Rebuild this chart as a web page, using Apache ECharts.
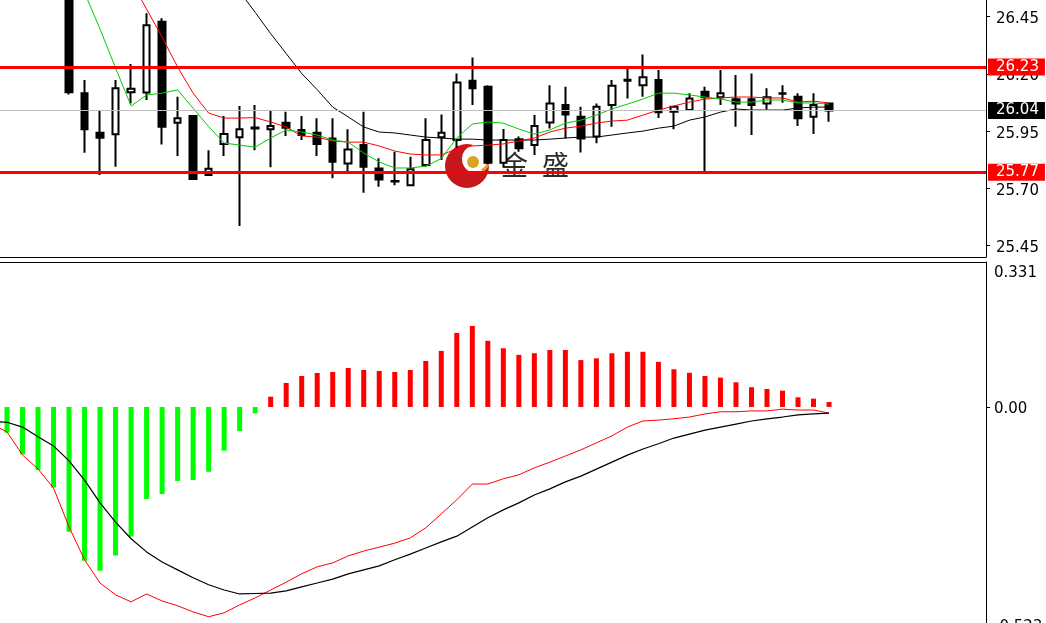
<!DOCTYPE html>
<html>
<head>
<meta charset="utf-8">
<script src="https://cdn.jsdelivr.net/npm/echarts@6/dist/echarts.min.js"></script>
<style>
html,body{margin:0;padding:0;background:#fff;}
#chart{width:1046px;height:623px;}
</style>
</head>
<body>
<div id="chart"></div>
<script>
// ---- Price candles (bar index 0..53) ----
const opens  = [27.02,26.98,26.85,26.80,26.62,26.115,25.943,25.936,26.12,26.119,26.428,25.987,26.016,25.758,25.894,25.923,25.962,25.958,25.987,25.955,25.943,25.918,25.809,25.889,25.787,25.730,25.714,25.802,25.923,25.911,26.170,26.144,25.812,25.914,25.889,25.988,26.064,26.013,25.926,26.064,26.170,26.151,26.173,26.035,26.042,26.122,26.098,26.089,26.089,26.071,26.113,26.100,26.013,26.071];
const closes = [26.98,26.85,26.80,26.62,26.12,25.958,25.921,26.137,26.135,26.413,25.969,26.006,25.741,25.786,25.937,25.958,25.966,25.972,25.965,25.933,25.894,25.816,25.870,25.794,25.739,25.732,25.783,25.911,25.943,26.163,26.137,25.812,25.911,25.875,25.972,26.071,26.023,25.918,26.057,26.148,26.174,26.185,26.033,26.057,26.093,26.098,26.115,26.071,26.064,26.098,26.116,26.006,26.064,26.040];
const lows   = [26.93,26.80,26.72,26.58,26.11,25.856,25.758,25.794,26.071,26.086,25.892,25.841,25.740,25.758,25.841,25.535,25.867,25.792,25.929,25.911,25.841,25.744,25.773,25.681,25.707,25.714,25.710,25.794,25.824,25.876,26.064,25.805,25.790,25.860,25.846,25.962,25.918,25.857,25.897,25.969,26.093,26.100,26.007,25.958,26.040,25.776,26.064,25.969,25.933,26.045,26.074,25.972,25.937,25.991];
const highs  = [27.06,27.01,26.90,26.84,26.66,26.173,26.038,26.173,26.243,26.465,26.443,26.100,26.020,25.867,26.016,26.060,26.064,26.042,26.035,26.016,26.006,26.006,25.958,26.035,25.831,25.860,25.838,26.006,26.023,26.202,26.272,26.150,25.959,25.926,26.020,26.151,26.144,26.057,26.071,26.173,26.227,26.285,26.217,26.060,26.115,26.144,26.217,26.195,26.202,26.137,26.151,26.115,26.115,26.071];

// ---- Moving averages (bar index 0..53) ----
const maGreen = [27.05,26.98,26.90,26.82,26.72,26.555,26.396,26.226,26.060,26.108,26.116,26.130,26.050,25.970,25.898,25.889,25.880,25.920,25.955,25.946,25.933,25.911,25.902,25.854,25.815,25.789,25.789,25.797,25.830,25.920,25.981,25.990,25.985,25.959,25.937,25.955,25.985,25.998,26.020,26.047,26.068,26.090,26.116,26.116,26.108,26.099,26.090,26.077,26.077,26.086,26.086,26.073,26.073,26.068];
const maRed   = [27.40,27.33,27.26,27.18,27.08,26.97,26.85,26.73,26.606,26.483,26.361,26.230,26.116,26.029,26.007,26.007,26.009,25.990,25.968,25.929,25.924,25.907,25.902,25.902,25.885,25.863,25.850,25.846,25.846,25.872,25.885,25.889,25.894,25.907,25.920,25.946,25.963,25.972,25.985,25.994,25.998,26.020,26.042,26.060,26.077,26.090,26.095,26.099,26.099,26.095,26.095,26.077,26.081,26.073];
const maBlack = [27.75,27.70,27.64,27.58,27.52,27.45,27.38,27.30,27.22,27.14,27.05,26.96,26.87,26.77,26.665,26.560,26.469,26.376,26.289,26.202,26.131,26.055,26.012,25.968,25.946,25.942,25.933,25.924,25.920,25.915,25.915,25.911,25.911,25.911,25.911,25.915,25.920,25.924,25.924,25.933,25.942,25.950,25.963,25.972,25.998,26.012,26.033,26.047,26.042,26.042,26.042,26.051,26.055,26.055];

// ---- Horizontal levels ----
const resistance = 26.23;
const support = 25.77;
const lastPrice = 26.04;
const priceTicks = [25.45, 25.70, 25.95, 26.20, 26.45];

// ---- MACD pane ----
const macdHist = [-0.0587,-0.108,-0.1438,-0.184,-0.285,-0.351,-0.374,-0.339,-0.296,-0.210,-0.199,-0.169,-0.167,-0.148,-0.0998,-0.0548,-0.0144,0.0235,0.0548,0.0708,0.0776,0.0799,0.089,0.0845,0.0822,0.0799,0.0845,0.105,0.128,0.169,0.185,0.151,0.134,0.119,0.1226,0.130,0.130,0.107,0.111,0.1226,0.126,0.126,0.103,0.086,0.078,0.0708,0.067,0.0564,0.045,0.041,0.0372,0.0221,0.019,0.0114];
// lines start one bar before the first histogram bar (index -1)
const macdLineStart = -1;
const macdRed   = [-0.039,-0.057,-0.1096,-0.1416,-0.185,-0.274,-0.349,-0.402,-0.429,-0.445,-0.427,-0.443,-0.454,-0.468,-0.479,-0.470,-0.452,-0.436,-0.418,-0.400,-0.381,-0.365,-0.356,-0.340,-0.329,-0.320,-0.311,-0.299,-0.276,-0.244,-0.212,-0.176,-0.176,-0.164,-0.155,-0.139,-0.126,-0.112,-0.098,-0.082,-0.066,-0.046,-0.032,-0.030,-0.027,-0.023,-0.016,-0.011,-0.011,-0.009,-0.009,-0.005,-0.007,-0.007,-0.014];
const macdBlack = [-0.033,-0.035,-0.046,-0.068,-0.089,-0.123,-0.167,-0.219,-0.263,-0.301,-0.331,-0.354,-0.372,-0.390,-0.406,-0.418,-0.427,-0.426,-0.425,-0.420,-0.411,-0.402,-0.393,-0.381,-0.372,-0.363,-0.349,-0.336,-0.322,-0.308,-0.295,-0.274,-0.253,-0.235,-0.219,-0.201,-0.187,-0.171,-0.158,-0.142,-0.126,-0.110,-0.096,-0.084,-0.071,-0.062,-0.053,-0.046,-0.039,-0.032,-0.027,-0.023,-0.018,-0.016,-0.014];
const macdMax = 0.331;
const macdMin = -0.523;
const macdTicks = [0.331, 0, -0.523];

// ---- build library data ----
const candleData = opens.map((o, i) => [i, o, closes[i], lows[i], highs[i]]);
const toXY = (arr, start) => arr.map((v, i) => [i + (start || 0), v]);

const X_MIN = -0.4513, X_MAX = 63.12;
const FONT = 'DejaVu Sans';

const chart = echarts.init(document.getElementById('chart'), null, {renderer: 'canvas'});

function levelLabel(bg) {
  return {
    show: true, position: 'end', distance: 2,
    formatter: p => Number(p.value).toFixed(2),
    color: '#fff', backgroundColor: bg,
    fontFamily: FONT, fontSize: 15, padding: [1, 6, 1, 8], lineHeight: 15
  };
}

const option = {
  animation: false,
  backgroundColor: '#ffffff',
  textStyle: {fontFamily: FONT},
  grid: [
    {left: 0, right: 60, top: 0, height: 257, containLabel: false, outerBoundsMode: 'none'},
    {left: 0, right: 60, top: 262, height: 374, containLabel: false, outerBoundsMode: 'none'}
  ],
  xAxis: [
    {type: 'value', gridIndex: 0, min: X_MIN, max: X_MAX, position: 'bottom',
     axisLine: {show: true, onZero: false, lineStyle: {color: '#000', width: 1}},
     axisTick: {show: false}, axisLabel: {show: false}, splitLine: {show: false}},
    {type: 'value', gridIndex: 1, min: X_MIN, max: X_MAX, position: 'top',
     axisLine: {show: true, onZero: false, lineStyle: {color: '#000', width: 1}},
     axisTick: {show: false}, axisLabel: {show: false}, splitLine: {show: false}}
  ],
  yAxis: [
    {type: 'value', gridIndex: 0, position: 'right', min: 25.40, max: 26.523,
     axisLine: {show: true, onZero: false, lineStyle: {color: '#000', width: 1}},
     axisTick: {show: true, length: 4, customValues: priceTicks, lineStyle: {color: '#000'}},
     axisLabel: {show: true, customValues: priceTicks, formatter: v => '{p|' + Number(v).toFixed(2) + '}',
                 color: '#000', fontFamily: FONT, fontSize: 15, margin: 10,
                 rich: {p: {fontFamily: FONT, fontSize: 15, color: '#000', padding: [5, 0, 0, 0]}}},
     splitLine: {show: false}},
    {type: 'value', gridIndex: 1, position: 'right', min: macdMin, max: macdMax,
     axisLine: {show: true, onZero: false, lineStyle: {color: '#000', width: 1}},
     axisTick: {show: true, length: 4, customValues: [0], lineStyle: {color: '#000'}},
     axisLabel: {show: true, customValues: macdTicks, color: '#000', fontFamily: FONT, fontSize: 15, margin: 8,
       formatter: v => {
         if (v === macdMax) return '{t|' + v.toFixed(3) + '}';
         if (v === macdMin) return '{b|' + v.toFixed(3) + '}';
         return '{m|' + Number(v).toFixed(2) + '}';
       },
       rich: {
         t: {fontFamily: FONT, fontSize: 15, color: '#000', padding: [22, 0, 0, 0]},
         m: {fontFamily: FONT, fontSize: 15, color: '#000', padding: [4, 0, 0, 0]},
         b: {fontFamily: FONT, fontSize: 15, color: '#000', padding: [0, 0, 18, 0]}
       }},
     splitLine: {show: false}}
  ],
  series: [
    {
      type: 'candlestick', xAxisIndex: 0, yAxisIndex: 0, data: candleData,
      barWidth: 7, z: 2,
      itemStyle: {color: '#ffffff', color0: '#000000', borderColor: '#000000', borderColor0: '#000000', borderWidth: 2},
      markLine: {
        symbol: 'none', silent: true, animation: false, z: 5,
        data: [
          {yAxis: lastPrice, lineStyle: {color: '#c0c0c0', width: 1, type: 'solid'}, label: levelLabel('#000000')},
          {yAxis: resistance, lineStyle: {color: '#ff0000', width: 3, type: 'solid'}, label: levelLabel('#ff0000')},
          {yAxis: support, lineStyle: {color: '#ff0000', width: 3, type: 'solid'}, label: levelLabel('#ff0000')}
        ]
      }
    },
    {type: 'line', xAxisIndex: 0, yAxisIndex: 0, data: toXY(maBlack), showSymbol: false, z: 3,
     lineStyle: {color: '#000000', width: 1}},
    {type: 'line', xAxisIndex: 0, yAxisIndex: 0, data: toXY(maRed), showSymbol: false, z: 3,
     lineStyle: {color: '#ff0000', width: 1}},
    {type: 'line', xAxisIndex: 0, yAxisIndex: 0, data: toXY(maGreen), showSymbol: false, z: 3,
     lineStyle: {color: '#00cc00', width: 1}},
    {type: 'bar', xAxisIndex: 1, yAxisIndex: 1, data: toXY(macdHist), barWidth: 5,
     itemStyle: {color: p => (p.value[1] >= 0 ? '#ff0000' : '#00ff00')}},
    {type: 'line', xAxisIndex: 1, yAxisIndex: 1, data: toXY(macdRed, macdLineStart), showSymbol: false, z: 3,
     lineStyle: {color: '#ff0000', width: 1}},
    {type: 'line', xAxisIndex: 1, yAxisIndex: 1, data: toXY(macdBlack, macdLineStart), showSymbol: false, z: 3,
     lineStyle: {color: '#000000', width: 1.2}}
  ],
  graphic: [
    {type: 'group', z: 10, children: [
      {type: 'circle', shape: {cx: 467, cy: 166, r: 22}, style: {fill: '#c8161d'}},
      {type: 'circle', shape: {cx: 476, cy: 159, r: 14}, style: {fill: '#ffffff'}},
      {type: 'arc', shape: {cx: 476, cy: 159, r: 13, startAngle: -0.5, endAngle: 1.1}, style: {stroke: '#e0a030', lineWidth: 3, fill: null}},
      {type: 'circle', shape: {cx: 473, cy: 162, r: 6}, style: {fill: '#d9a520'}},
      {type: 'text', style: {text: '金', x: 501, y: 151, font: '27px "Noto Sans CJK SC"', fill: '#2a2a2a'}},
      {type: 'text', style: {text: '盛', x: 542, y: 151, font: '27px "Noto Sans CJK SC"', fill: '#2a2a2a'}}
    ]}
  ]
};

chart.setOption(option);
</script>
</body>
</html>
